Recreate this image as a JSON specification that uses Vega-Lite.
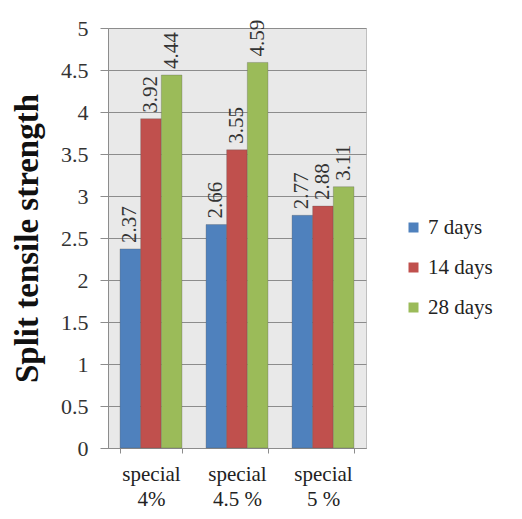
{
  "$schema": "https://vega.github.io/schema/vega-lite/v6.json",
  "autosize": "none",
  "width": 258,
  "height": 420,
  "padding": {"left": 108, "top": 28, "right": 156, "bottom": 71},
  "background": "white",
  "config": {
    "font": "Times New Roman",
    "view": {"fill": "#e9e9e9", "stroke": "#bfbfbf"}
  },
  "data": {
    "values": [
      {"mix": "special|4%", "age": "7 days", "strength": 2.37},
      {"mix": "special|4%", "age": "14 days", "strength": 3.92},
      {"mix": "special|4%", "age": "28 days", "strength": 4.44},
      {"mix": "special|4.5 %", "age": "7 days", "strength": 2.66},
      {"mix": "special|4.5 %", "age": "14 days", "strength": 3.55},
      {"mix": "special|4.5 %", "age": "28 days", "strength": 4.59},
      {"mix": "special|5 %", "age": "7 days", "strength": 2.77},
      {"mix": "special|5 %", "age": "14 days", "strength": 2.88},
      {"mix": "special|5 %", "age": "28 days", "strength": 3.11}
    ]
  },
  "encoding": {
    "x": {
      "field": "mix", "type": "nominal", "sort": null,
      "scale": {"paddingInner": 0.28, "paddingOuter": 0.14},
      "axis": {
        "title": null, "labelAngle": 0, "labelFontSize": 21, "labelColor": "#222",
        "labelFont": "Times New Roman",
        "labelExpr": "split(datum.label, '|')",
        "labelLineHeight": 25, "labelPadding": 10,
        "domainColor": "#8c8c8c", "tickColor": "#8c8c8c", "tickSize": 5, "tickBand": "extent",
        "grid": false
      }
    },
    "xOffset": {"field": "age", "type": "nominal", "sort": ["7 days", "14 days", "28 days"]},
    "y": {
      "field": "strength", "type": "quantitative",
      "scale": {"domain": [0, 5], "nice": false},
      "axis": {
        "title": "Split  tensile strength", "titleFontSize": 33, "titleFontWeight": "bold",
        "titleFont": "Times New Roman", "titleColor": "#111", "titlePadding": 16,
        "values": [0, 0.5, 1, 1.5, 2, 2.5, 3, 3.5, 4, 4.5, 5], "format": "~g",
        "labelFont": "Times New Roman", "labelFontSize": 22, "labelColor": "#333", "labelPadding": 12,
        "tickSize": 8, "tickColor": "#8c8c8c", "domainColor": "#8c8c8c",
        "gridColor": "#8c8c8c", "gridWidth": 1.2
      }
    }
  },
  "layer": [
    {
      "mark": {"type": "bar", "stroke": "#555", "strokeWidth": 0.3},
      "encoding": {
        "color": {
          "field": "age", "type": "nominal", "sort": ["7 days", "14 days", "28 days"],
          "scale": {"domain": ["7 days", "14 days", "28 days"], "range": ["#4f81bd", "#c0504d", "#9bbb59"]},
          "legend": {
            "title": null, "orient": "none", "legendX": 295, "legendY": 189,
            "labelFont": "Times New Roman", "labelFontSize": 21, "labelColor": "#222",
            "symbolType": "square", "symbolSize": 100,
            "symbolStrokeWidth": 0, "rowPadding": 18, "labelOffset": 4
          }
        }
      }
    },
    {
      "mark": {"type": "text", "angle": 270, "align": "left", "baseline": "middle", "dx": 6, "fontSize": 21, "font": "Times New Roman", "color": "#333"},
      "encoding": {"text": {"field": "strength", "type": "quantitative", "format": ".2f"}}
    }
  ]
}
